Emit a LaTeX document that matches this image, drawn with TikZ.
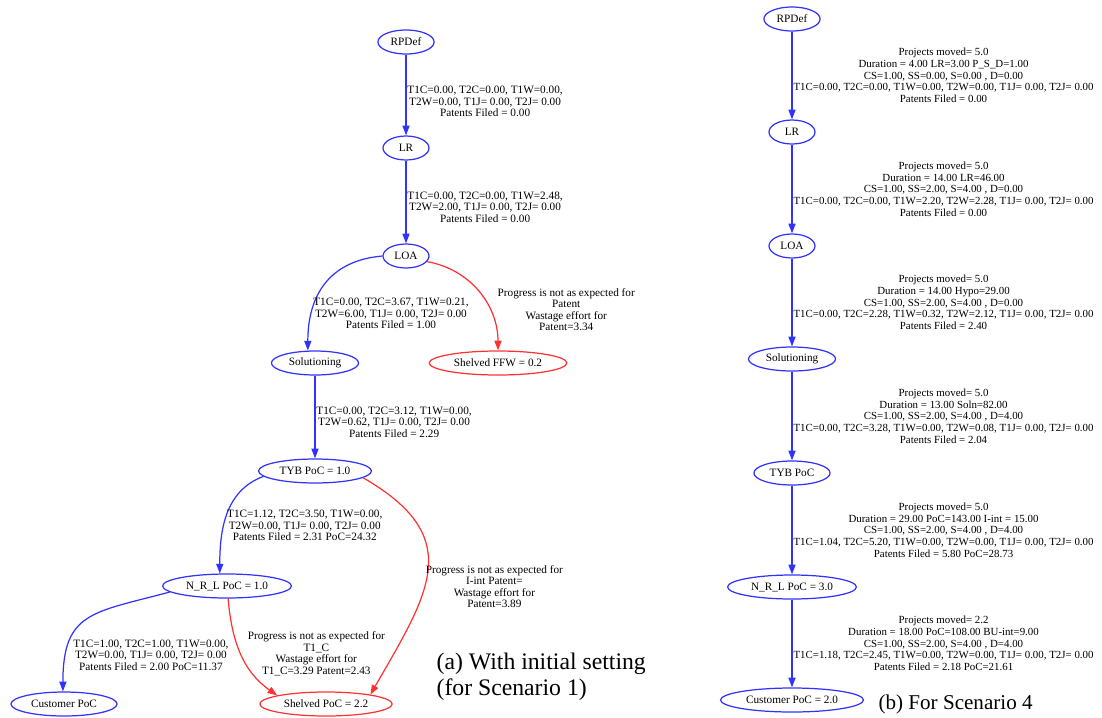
\documentclass[tikz,border=0pt]{standalone}
\usepackage{fontspec}
\setmainfont{Liberation Serif}
\usepackage{tikz}
\usetikzlibrary{shapes.geometric,arrows.meta}
\definecolor{gvblue}{RGB}{50,50,255}
\definecolor{gvred}{RGB}{255,50,50}

\begin{document}
\begin{tikzpicture}[x=0.02cm,y=0.02cm,->,>={Triangle[length=5.5pt,width=4pt]},line width=0.7pt,
        bnode/.style={ellipse,draw=gvblue,inner xsep=2.6pt,inner ysep=0pt,minimum width=0.92cm,minimum height=0.48cm,font=\fontsize{6.4}{6.6}\selectfont},
        rnode/.style={bnode,draw=gvred},
        lbl/.style={font=\fontsize{6.4}{6.6}\selectfont,align=center,text=black,inner sep=0.5pt},
        wide lbl/.style={font=\fontsize{6.2}{6.65}\selectfont,align=center,text=black,inner sep=0.5pt}]

    \useasboundingbox (0,0) rectangle (1102,-717);

    % (a) with initial setting
    \node[bnode] (rpdefA) at (406,-42) {RPDef};
    \node[bnode] (lrA) at (406,-148) {LR};
    \node[bnode] (loaA) at (406,-256) {LOA};
    \node[bnode] (solA) at (315,-363) {Solutioning};
    \node[rnode] (ffwA) at (498,-363) {Shelved FFW = 0.2};
    \node[bnode] (tybA) at (315,-471) {TYB PoC = 1.0};
    \node[bnode] (nrlA) at (227,-586) {N\_R\_L PoC = 1.0};
    \node[bnode] (custA) at (64,-704) {Customer PoC};
    \node[rnode] (spocA) at (326,-704) {Shelved PoC = 2.2};

    \path[gvblue]
    (rpdefA) edge node[lbl,right,pos=0.58] {T1C=0.00, T2C=0.00, T1W=0.00,\\T2W=0.00, T1J= 0.00, T2J= 0.00\\Patents Filed = 0.00} (lrA)
    (lrA) edge node[lbl,right,pos=0.56] {T1C=0.00, T2C=0.00, T1W=2.48,\\T2W=2.00, T1J= 0.00, T2J= 0.00\\Patents Filed = 0.00} (loaA)
    (loaA.west) edge [out=185,in=90,looseness=1.15] node[lbl,right,pos=0.75] {T1C=0.00, T2C=3.67, T1W=0.21,\\T2W=6.00, T1J= 0.00, T2J= 0.00\\Patents Filed = 1.00} (solA.120)
    (solA) edge node[lbl,right,pos=0.56] {T1C=0.00, T2C=3.12, T1W=0.00,\\T2W=0.62, T1J= 0.00, T2J= 0.00\\Patents Filed = 2.29} (tybA)
    (tybA.186) edge [out=200,in=90] node[lbl,right=1pt,pos=0.6] {T1C=1.12, T2C=3.50, T1W=0.00,\\T2W=0.00, T1J= 0.00, T2J= 0.00\\Patents Filed = 2.31 PoC=24.32} (nrlA.120)
    (nrlA.186) edge [out=195,in=90,looseness=1.4] node[lbl,right=2pt,pos=0.76,yshift=-5pt] {T1C=1.00, T2C=1.00, T1W=0.00,\\T2W=0.00, T1J= 0.00, T2J= 0.00\\Patents Filed = 2.00 PoC=11.37} (custA.95);

    \path[gvred]
    (loaA.-15) edge [out=-10,in=90] node[lbl,right=3pt,pos=0.7,yshift=2pt] {Progress is not as expected for\\Patent\\Wastage effort for\\Patent=3.34} (ffwA)
    (tybA.-8) edge [out=-30,in=60,looseness=1.4] node[lbl,right,pos=0.58] {Progress is not as expected for\\I-int Patent=\\Wastage effort for\\Patent=3.89} (spocA.12)
    (nrlA.-85) edge [out=-85,in=145] node[lbl,right=3pt,pos=0.5] {Progress is not as expected for\\T1\_C\\Wastage effort for\\T1\_C=3.29 Patent=2.43} (spocA.170);

    \node[anchor=west,align=left,inner sep=0pt,font=\fontsize{13.5}{14.7}\selectfont] (capA) at (436,-677) {(a) With initial setting\\(for Scenario 1)};

    % (b) for scenario 4
    \node[bnode] (rpdefB) at (792,-19) {RPDef};
    \node[bnode] (lrB) at (792,-132) {LR};
    \node[bnode] (loaB) at (792,-246) {LOA};
    \node[bnode] (solB) at (792,-359) {Solutioning};
    \node[bnode] (tybB) at (792,-473) {TYB PoC};
    \node[bnode] (nrlB) at (792,-587) {N\_R\_L PoC = 3.0};
    \node[bnode] (custB) at (792,-700) {Customer PoC = 2.0};

    \path[gvblue]
    (rpdefB) edge node[wide lbl,right] {Projects moved= 5.0\\Duration = 4.00 LR=3.00 P\_S\_D=1.00\\CS=1.00, SS=0.00, S=0.00 , D=0.00\\T1C=0.00, T2C=0.00, T1W=0.00, T2W=0.00, T1J= 0.00, T2J= 0.00\\Patents Filed = 0.00} (lrB)
    (lrB) edge node[wide lbl,right] {Projects moved= 5.0\\Duration = 14.00 LR=46.00\\CS=1.00, SS=2.00, S=4.00 , D=0.00\\T1C=0.00, T2C=0.00, T1W=2.20, T2W=2.28, T1J= 0.00, T2J= 0.00\\Patents Filed = 0.00} (loaB)
    (loaB) edge node[wide lbl,right] {Projects moved= 5.0\\Duration = 14.00 Hypo=29.00\\CS=1.00, SS=2.00, S=4.00 , D=0.00\\T1C=0.00, T2C=2.28, T1W=0.32, T2W=2.12, T1J= 0.00, T2J= 0.00\\Patents Filed = 2.40} (solB)
    (solB) edge node[wide lbl,right] {Projects moved= 5.0\\Duration = 13.00 Soln=82.00\\CS=1.00, SS=2.00, S=4.00 , D=4.00\\T1C=0.00, T2C=3.28, T1W=0.00, T2W=0.08, T1J= 0.00, T2J= 0.00\\Patents Filed = 2.04} (tybB)
    (tybB) edge node[wide lbl,right] {Projects moved= 5.0\\Duration = 29.00 PoC=143.00 I-int = 15.00\\CS=1.00, SS=2.00, S=4.00 , D=4.00\\T1C=1.04, T2C=5.20, T1W=0.00, T2W=0.00, T1J= 0.00, T2J= 0.00\\Patents Filed = 5.80 PoC=28.73} (nrlB)
    (nrlB) edge node[wide lbl,right] {Projects moved= 2.2\\Duration = 18.00 PoC=108.00 BU-int=9.00\\CS=1.00, SS=2.00, S=4.00 , D=4.00\\T1C=1.18, T2C=2.45, T1W=0.00, T2W=0.00, T1J= 0.00, T2J= 0.00\\Patents Filed = 2.18 PoC=21.61} (custB);

    \node[anchor=west,inner sep=0pt,font=\fontsize{12}{14}\selectfont] (capB) at (878,-704) {(b) For Scenario 4};

\end{tikzpicture}
\end{document}
